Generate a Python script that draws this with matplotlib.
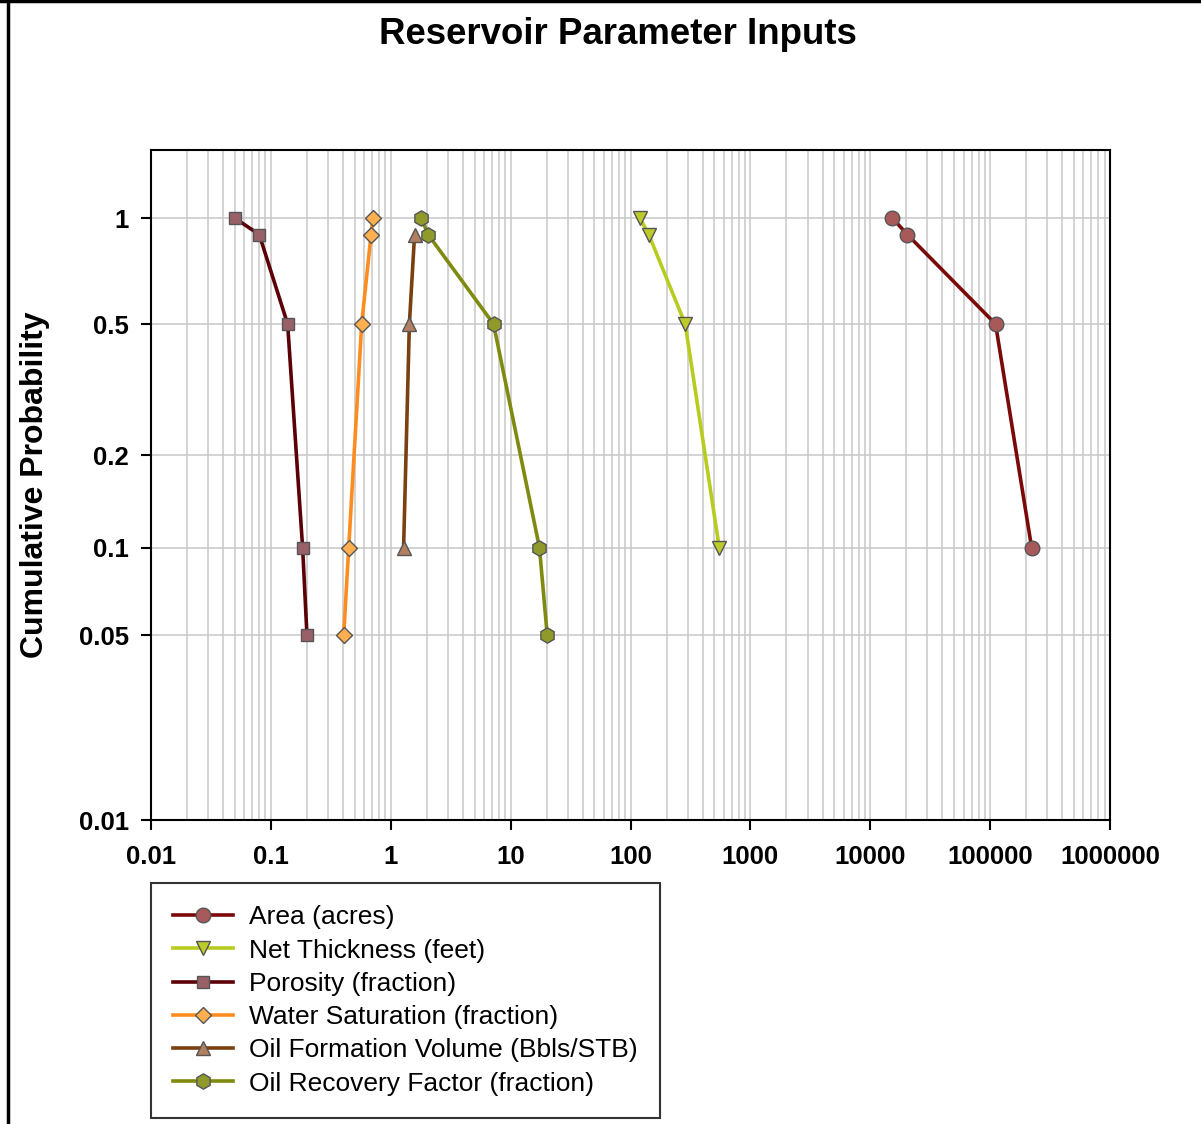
import numpy as np
import matplotlib
matplotlib.use("Agg")
import matplotlib.pyplot as plt
from matplotlib.lines import Line2D

plt.rcParams['font.family'] = ['Liberation Sans', 'DejaVu Sans']

# ---- data ----
prob_5 = [1.0, 0.9, 0.5, 0.1, 0.05]
prob_4 = [1.0, 0.9, 0.5, 0.1]
prob_3 = [0.9, 0.5, 0.1]

area = [15300, 20400, 111000, 222000]
net_thickness = [120, 142, 286, 550]
porosity = [0.05, 0.08, 0.138, 0.184, 0.2]
water_sat = [0.71, 0.685, 0.572, 0.446, 0.405]
oil_fvf = [1.58, 1.43, 1.28]
recovery = [1.80, 2.05, 7.2, 17.4, 20.2]

series_names = ["Area (acres)", "Net Thickness (feet)", "Porosity (fraction)",
                "Water Saturation (fraction)", "Oil Formation Volume (Bbls/STB)",
                "Oil Recovery Factor (fraction)"]

x_ticks = [0.01, 0.1, 1, 10, 100, 1000, 10000, 100000, 1000000]
x_tick_labels = ["0.01", "0.1", "1", "10", "100", "1000", "10000", "100000", "1000000"]
y_ticks = [0.01, 0.05, 0.1, 0.2, 0.5, 1]
y_tick_labels = ["0.01", "0.05", "0.1", "0.2", "0.5", "1"]

W, H = 1201, 1124
fig = plt.figure(figsize=(W / 100, H / 100), dpi=100)
ax = fig.add_axes([151 / W, 1 - 820 / H, (1110 - 151) / W, (820 - 150) / H])

EXP = 0.083
ax.set_yscale('function', functions=(lambda p: np.power(np.clip(p, 1e-12, None), EXP),
                                     lambda q: np.power(np.clip(q, 1e-12, None), 1 / EXP)))
ax.set_xscale('log')

styles = [
    (area, prob_4, '#7a0a0a', 'o', '#a85a5a', 10.5),
    (net_thickness, prob_4, '#b8cc20', 'v', '#bccb2a', 10.5),
    (porosity, prob_5, '#5c0008', 's', '#9a6068', 9),
    (water_sat, prob_5, '#ff8c1e', 'D', '#ffae50', 8.5),
    (oil_fvf, prob_3, '#7a4010', '^', '#b08060', 10.5),
    (recovery, prob_5, '#7f8a10', 'h', '#8f9a2a', 11),
]
handles = []
for (xs, ys, lc, mk, fc, ms), name in zip(styles, series_names):
    ln, = ax.plot(xs, ys, color=lc, lw=2.6, marker=mk, markersize=ms,
                  markerfacecolor=fc, markeredgecolor='#555555', markeredgewidth=1.0,
                  zorder=3, label=name)
    handles.append(ln)

ax.set_xlim(0.01, 1e6)
ax.set_ylim(0.01, 1.53)
ax.set_xticks(x_ticks)
ax.set_xticklabels(x_tick_labels)
ax.set_yticks(y_ticks)
ax.set_yticklabels(y_tick_labels)
ax.yaxis.set_minor_locator(matplotlib.ticker.NullLocator())
ax.xaxis.set_minor_locator(matplotlib.ticker.LogLocator(base=10, subs=np.arange(2, 10)))
ax.xaxis.set_minor_formatter(matplotlib.ticker.NullFormatter())

ax.grid(True, which='both', axis='x', color='#c8c8c8', lw=1.1, zorder=0)
ax.grid(True, which='major', axis='y', color='#c8c8c8', lw=1.1, zorder=0)
ax.set_axisbelow(True)

for s in ax.spines.values():
    s.set_linewidth(1.5)
    s.set_color('black')

ax.tick_params(which='major', direction='out', length=7, width=1.5,
               labelsize=18.5)
ax.tick_params(axis='x', pad=11)
ax.tick_params(axis='y', pad=9)
ax.tick_params(which='minor', length=0)
for lbl in ax.get_xticklabels() + ax.get_yticklabels():
    lbl.set_fontweight('bold')

fig.text(35 / W, 1 - 485 / H, "Cumulative Probability", rotation=90,
         ha='center', va='center', fontsize=23, fontweight='bold')

fig.text(618 / W, 1 - 35 / H, "Reservoir Parameter Inputs", ha='center', va='center',
         fontsize=26.4, fontweight='bold')

leg = fig.legend(handles=handles, loc='upper left',
                 bbox_to_anchor=(151 / W, 1 - 883 / H), bbox_transform=fig.transFigure,
                 fontsize=19, frameon=True, fancybox=False, edgecolor='black',
                 borderaxespad=0, handlelength=2.27, handletextpad=0.6,
                 borderpad=0.85, labelspacing=0.35)
leg.get_frame().set_linewidth(1.5)

# figure border lines (left and top)
fig.add_artist(Line2D([7.5 / W, 7.5 / W], [0, 1], transform=fig.transFigure,
                      color='black', lw=2.5))
fig.add_artist(Line2D([0, 1], [1 - 1 / H, 1 - 1 / H], transform=fig.transFigure,
                      color='black', lw=2.5))

fig.savefig("out.png", dpi=100)
